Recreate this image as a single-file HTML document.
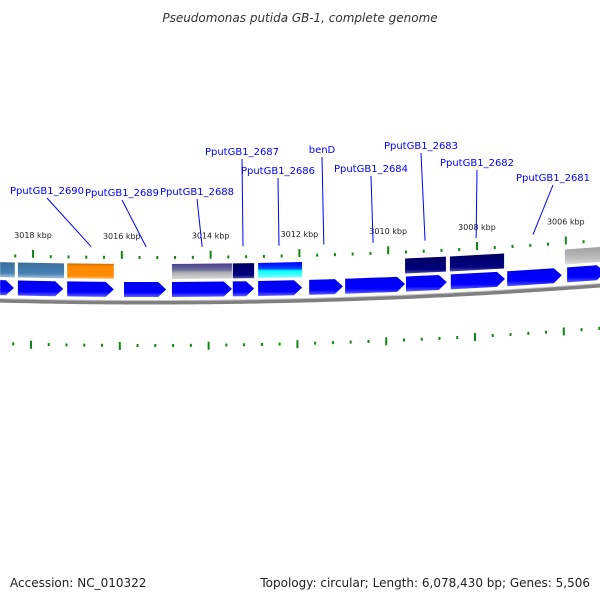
<!DOCTYPE html>
<html><head><meta charset="utf-8"><style>
body{margin:0;background:#fff}
svg{display:block;font-family:"DejaVu Sans","Liberation Sans",sans-serif}
</style></head><body>
<svg id="c" width="600" height="600" viewBox="0 0 600 600">
<defs>
<linearGradient id="gBlue" x1="0" y1="0" x2="0" y2="1"><stop offset="0" stop-color="#0000ee"/><stop offset="0.7" stop-color="#0000ff"/><stop offset="1" stop-color="#6060ff"/></linearGradient>
<linearGradient id="gSteel" x1="0" y1="0" x2="0" y2="1"><stop offset="0" stop-color="#3a6d9a"/><stop offset="0.7" stop-color="#4682b4"/><stop offset="1" stop-color="#a9c4dc"/></linearGradient>
<linearGradient id="gOrange" x1="0" y1="0" x2="0" y2="1"><stop offset="0" stop-color="#c86800"/><stop offset="0.2" stop-color="#ff8c00"/><stop offset="0.8" stop-color="#ff8c00"/><stop offset="1" stop-color="#ffc070"/></linearGradient>
<linearGradient id="gPurple" x1="0" y1="0" x2="0" y2="1"><stop offset="0" stop-color="#483d8b"/><stop offset="0.4" stop-color="#6a6a9a"/><stop offset="0.6" stop-color="#b0b0b0"/><stop offset="1" stop-color="#d8d8d8"/></linearGradient>
<linearGradient id="gNavy" x1="0" y1="0" x2="0" y2="1"><stop offset="0" stop-color="#000060"/><stop offset="0.75" stop-color="#000080"/><stop offset="1" stop-color="#5050a0"/></linearGradient>
<linearGradient id="gCyan" x1="0" y1="0" x2="0" y2="1"><stop offset="0" stop-color="#0000ff"/><stop offset="0.4" stop-color="#0040ff"/><stop offset="0.55" stop-color="#00ffff"/><stop offset="1" stop-color="#80ffff"/></linearGradient>
<linearGradient id="gGrey" x1="0" y1="0" x2="0" y2="1"><stop offset="0" stop-color="#a0a0a0"/><stop offset="0.7" stop-color="#c0c0c0"/><stop offset="1" stop-color="#e0e0e0"/></linearGradient>
</defs>
<text x="300" y="22" text-anchor="middle" font-size="12" font-style="italic" fill="#333">Pseudomonas putida GB-1, complete genome</text>
<text x="10" y="587" font-size="12" fill="#222">Accession: NC_010322</text>
<text x="590" y="587" text-anchor="end" font-size="12" fill="#222">Topology: circular; Length: 6,078,430 bp; Genes: 5,506</text>
<g id="layer"></g>
</svg>
<script>
// data (positions in kbp)
const geneStarts = [3018.74, 3018.34, 3017.23, 3015.95, 3014.87, 3013.50, 3012.93, 3011.78, 3010.97, 3009.60, 3008.59, 3007.32, 3005.97];
const geneEnds   = [3018.43, 3017.32, 3016.18, 3015.00, 3013.52, 3013.02, 3011.94, 3011.02, 3009.62, 3008.68, 3007.37, 3006.09, 3005.12];
const featStarts = [3018.74, 3018.34, 3017.23, 3014.87, 3013.50, 3012.93, 3009.62, 3008.61, 3006.02];
const featEnds   = [3018.41, 3017.30, 3016.18, 3013.52, 3013.02, 3011.94, 3008.70, 3007.39, 3005.12];
const featColors = ["gSteel","gSteel","gOrange","gPurple","gNavy","gCyan","gNavy","gNavy","gGrey"];
const tickLabels = [3018, 3016, 3014, 3012, 3010, 3008, 3006];
const labelNames = ["PputGB1_2690","PputGB1_2689","PputGB1_2688","PputGB1_2687","PputGB1_2686","benD","PputGB1_2684","PputGB1_2683","PputGB1_2682","PputGB1_2681"];
const labelAnchors = [3016.69, 3015.45, 3014.19, 3013.27, 3012.46, 3011.45, 3010.34, 3009.17, 3008.02, 3006.74];
const labelTextX = [47, 122, 197, 242, 278, 322, 371, 421, 477, 553];
const labelTextY = [194, 196, 195, 155, 174, 153, 172, 149, 166, 181];

const NS='http://www.w3.org/2000/svg';
const layer=document.getElementById('layer');
function X(k){return 33+(3018-k)*44.4;}
function Y(x){return 302-8.4e-5*(x-150)*(x-150);}
function Y2(x){return 346-8.5e-5*(x-150)*(x-150);}
function el(tag,attrs){const e=document.createElementNS(NS,tag);for(const k in attrs)e.setAttribute(k,attrs[k]);layer.appendChild(e);return e;}

let d='';
for(let x=-5;x<=605;x+=5){d+=(x===-5?'M':'L')+x+','+(Y(x)+0.5);}
const bb=el('path',{d:d,stroke:'#808080','stroke-width':4,fill:'none'});


let d2='';
for(let x=-5;x<=605;x+=5){d2+=(x===-5?'M':'L')+x+','+(Y(x)-1.5);}
el('path',{d:d2,stroke:'#c8c8c8','stroke-width':1,fill:'none'});

for(let i=0;i<=40;i++){
  const k=3019.2-i*0.4;
  const x=X(k);
  const major=Math.abs(k-Math.round(k/2)*2)<0.01;
  const y=Y(x);
  const t=el('line',{x1:x,x2:x,y1:major?y-51:y-46,y2:y-43,stroke:'#118811','stroke-width':2});
  
  
  const x2=x-2, yy=Y2(x2);
  const t2=el('line',{x1:x2,x2:x2,y1:major?yy-4:yy-2,y2:major?yy+4:yy+1,stroke:'#118811','stroke-width':2});
  
  
}
tickLabels.forEach(k=>{
  const x=X(k);
  const t=el('text',{x:x,y:Y(x)-63,'text-anchor':'middle','font-size':8,fill:'#222'});
  t.textContent=k+' kbp';
  
  
});

featStarts.forEach((s,i)=>{
  const x1=X(s),x2=X(featEnds[i]);
  const p=el('polygon',{points:`${x1},${Y(x1)-38} ${x2},${Y(x2)-38} ${x2},${Y(x2)-23} ${x1},${Y(x1)-23}`,fill:`url(#${featColors[i]})`});
  
  
});
geneStarts.forEach((s,i)=>{
  const x1=X(s),x2=X(geneEnds[i]);
  const h=Math.min(8,x2-x1);
  const xb=x2-h;
  const pts=`${x1},${Y(x1)-20} ${xb},${Y(xb)-20} ${x2},${Y(x2)-12.5} ${xb},${Y(xb)-5} ${x1},${Y(x1)-5}`;
  const p=el('polygon',{points:pts,fill:'url(#gBlue)'});
  
  
});
labelNames.forEach((n,i)=>{
  const ax=X(labelAnchors[i]);
  const tx=labelTextX[i], ty=labelTextY[i];
  const l=el('line',{x1:tx,y1:ty+4,x2:ax,y2:Y(ax)-55,stroke:'#0000ff','stroke-width':1});
  
  
  const t=el('text',{x:tx,y:ty,'text-anchor':'middle','font-size':10,fill:'#0000ff'});
  t.textContent=n;
  
  
});
</script>
</body></html>
